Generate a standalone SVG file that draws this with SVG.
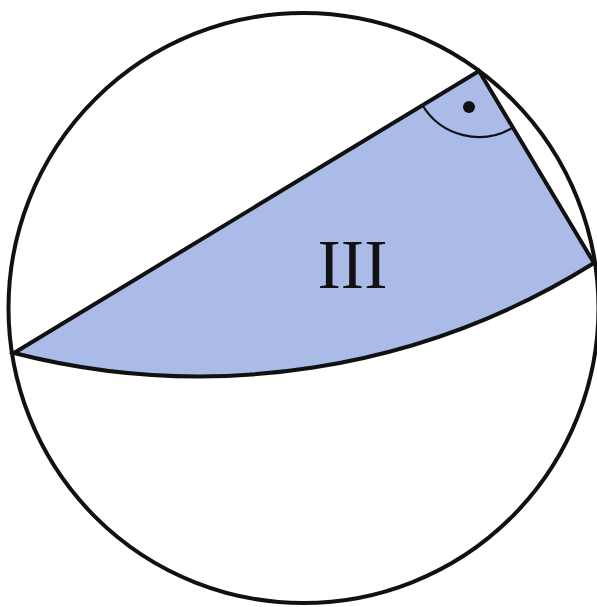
<svg xmlns="http://www.w3.org/2000/svg" width="597" height="607" viewBox="0 0 597 607">
<style>
.ln{fill:none;stroke:#111;stroke-width:4;stroke-linejoin:round}
.fillr{fill:#a9bbe6;stroke:#111;stroke-width:4;stroke-linejoin:miter}
</style>
<rect width="597" height="607" fill="#fff"/>
<g id="region-III">
<path class="fillr" d="M14,353 L479,71 L594,263 A745,745 0 0 1 14,353 Z"/>
<text x="352.5" y="288" font-family="Liberation Serif, serif" font-size="70" text-anchor="middle" fill="#111">III</text>
</g>
<g id="right-angle">
<path d="M422.6,105.5 A66,66 0 0 0 513,127.5" fill="none" stroke="#111" stroke-width="2.2"/>
<circle cx="469" cy="107" r="6" fill="#111"/>
</g>
<g id="circle">
<circle class="ln" cx="303.5" cy="308" r="295"/>
</g>
</svg>
